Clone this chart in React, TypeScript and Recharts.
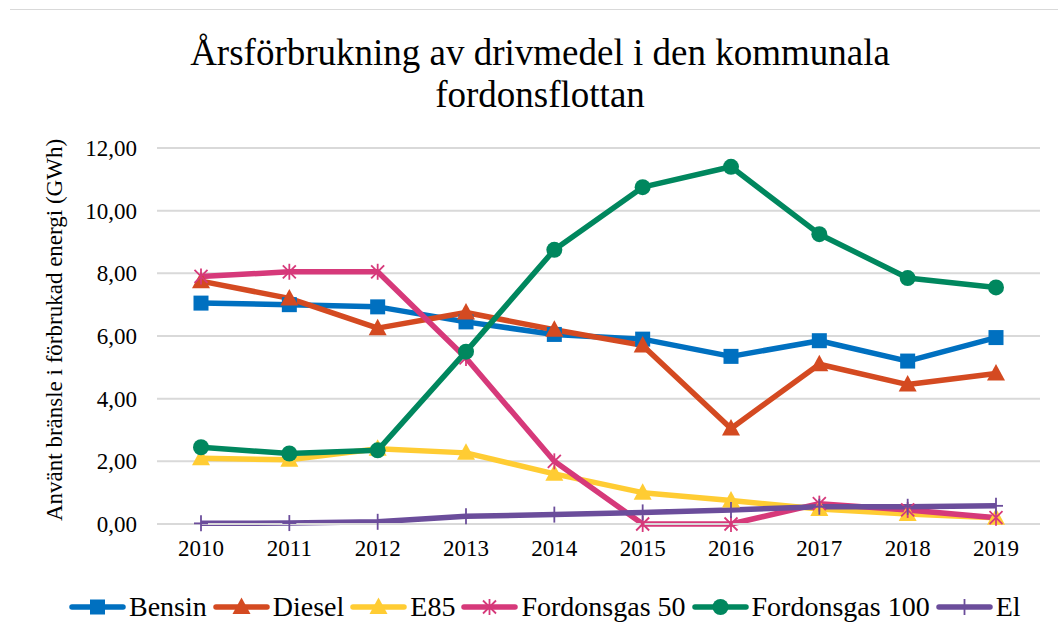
import React from "react";
import { LineChart, Line, XAxis, YAxis, CartesianGrid } from "recharts";

const years = ["2010", "2011", "2012", "2013", "2014", "2015", "2016", "2017", "2018", "2019"];
const bensin = [7.05, 7.0, 6.93, 6.45, 6.05, 5.9, 5.35, 5.85, 5.2, 5.95];
const diesel = [7.75, 7.2, 6.25, 6.75, 6.2, 5.7, 3.05, 5.1, 4.45, 4.8];
const e85 = [2.1, 2.05, 2.4, 2.27, 1.6, 1.0, 0.75, 0.48, 0.32, 0.2];
const fordonsgas50 = [7.9, 8.05, 8.05, 5.3, 2.0, 0, 0, 0.65, 0.45, 0.2];
const fordonsgas100 = [2.45, 2.25, 2.35, 5.5, 8.75, 10.75, 11.4, 9.25, 7.85, 7.55];
const el = [0.02, 0.03, 0.07, 0.25, 0.3, 0.37, 0.45, 0.55, 0.55, 0.58];
const yTicks = [0, 2, 4, 6, 8, 10, 12];

const FONT = '"Liberation Serif", "Times New Roman", serif';

type Shape = "square" | "triangle" | "star" | "circle" | "plus";

const series: { key: string; name: string; color: string; shape: Shape; values: number[] }[] = [
  { key: "bensin", name: "Bensin", color: "#0070C0", shape: "square", values: bensin },
  { key: "diesel", name: "Diesel", color: "#D44A21", shape: "triangle", values: diesel },
  { key: "e85", name: "E85", color: "#FFCC33", shape: "triangle", values: e85 },
  { key: "fg50", name: "Fordonsgas 50", color: "#D6397A", shape: "star", values: fordonsgas50 },
  { key: "fg100", name: "Fordonsgas 100", color: "#00875E", shape: "circle", values: fordonsgas100 },
  { key: "el", name: "El", color: "#6B4D9B", shape: "plus", values: el },
];

const data = years.map((year, i) => {
  const row: Record<string, string | number> = { year };
  series.forEach((s) => (row[s.key] = s.values[i]));
  return row;
});

function Marker({ cx, cy, shape, color }: { cx: number; cy: number; shape: Shape; color: string }) {
  switch (shape) {
    case "square":
      return <rect x={cx - 7.5} y={cy - 7.5} width={15} height={15} fill={color} />;
    case "triangle":
      return <path d={`M${cx},${cy - 9.5} L${cx + 9},${cy + 7} L${cx - 9},${cy + 7} Z`} fill={color} />;
    case "circle":
      return <circle cx={cx} cy={cy} r={8} fill={color} />;
    case "star":
      return (
        <g stroke={color} strokeWidth={1.8}>
          <line x1={cx - 6.5} y1={cy - 6.5} x2={cx + 6.5} y2={cy + 6.5} />
          <line x1={cx - 6.5} y1={cy + 6.5} x2={cx + 6.5} y2={cy - 6.5} />
          <line x1={cx} y1={cy - 8} x2={cx} y2={cy + 8} />
        </g>
      );
    case "plus":
      return (
        <g stroke={color} strokeWidth={1.8}>
          <line x1={cx} y1={cy - 8} x2={cx} y2={cy + 8} />
          <line x1={cx - 7} y1={cy} x2={cx + 7} y2={cy} />
        </g>
      );
  }
}

const makeDot = (shape: Shape, color: string) => (props: any) => {
  const { cx, cy, index } = props;
  if (cx == null || cy == null) return <g key={index} />;
  return (
    <g key={`${shape}-${index}`}>
      <Marker cx={cx} cy={cy} shape={shape} color={color} />
    </g>
  );
};

const fmt = (v: number) => v.toFixed(2).replace(".", ",");

function XTick(props: any) {
  const { x, y, payload } = props;
  return (
    <text x={x} y={y} dy="0.71em" textAnchor="middle" fill="#000" style={{ fontFamily: FONT, fontSize: 23 }}>
      {payload.value}
    </text>
  );
}

function YTick(props: any) {
  const { x, y, payload } = props;
  return (
    <text x={x} y={y} dy="0.355em" textAnchor="end" fill="#000" style={{ fontFamily: FONT, fontSize: 23 }}>
      {fmt(payload.value)}
    </text>
  );
}

export default function App() {
  return (
    <div style={{ position: "absolute", left: 0, top: 0, width: 1058, height: 637, background: "#fff", fontFamily: FONT }}>
      <div style={{ position: "absolute", left: 10, right: 0, top: 9, borderTop: "1px solid #d9d9d9" }} />
      <div
        style={{
          position: "absolute",
          left: 0,
          width: 1080,
          top: 32,
          textAlign: "center",
          fontSize: 37,
          lineHeight: "42px",
          color: "#000",
        }}
      >
        Årsförbrukning av drivmedel i den kommunala
        <br />
        fordonsflottan
      </div>
      <div
        style={{
          position: "absolute",
          left: 55,
          top: 330,
          transform: "translate(-50%, -50%) rotate(-90deg)",
          whiteSpace: "nowrap",
          fontSize: 23,
          color: "#000",
        }}
      >
        Använt bränsle i förbrukad energi (GWh)
      </div>
      <LineChart
        width={1058}
        height={637}
        data={data}
        margin={{ top: 148, right: 18, bottom: 73, left: 0 }}
        style={{ position: "absolute", left: 0, top: 0 }}
      >
        <CartesianGrid vertical={false} stroke="#d9d9d9" strokeWidth={2} />
        <XAxis
          dataKey="year"
          height={40}
          padding={{ left: 44, right: 44 }}
          tickLine={false}
          axisLine={{ stroke: "#d9d9d9", strokeWidth: 2 }}
          tickMargin={10}
          tick={<XTick />}
        />
        <YAxis
          width={157}
          domain={[0, 12]}
          ticks={yTicks}
          tickLine={false}
          axisLine={false}
          tickMargin={14}
          tick={<YTick />}
        />
        {series.map((s) => (
          <Line
            key={s.key}
            type="linear"
            dataKey={s.key}
            name={s.name}
            stroke={s.color}
            strokeWidth={5.5}
            strokeLinejoin="round"
            dot={makeDot(s.shape, s.color)}
            activeDot={false}
            isAnimationActive={false}
          />
        ))}
      </LineChart>
      <div
        style={{
          position: "absolute",
          left: 69,
          top: 587,
          display: "flex",
          alignItems: "center",
          fontSize: 28,
          fontFamily: FONT,
          color: "#000",
        }}
      >
        {series.map((s) => (
          <div key={s.key} style={{ display: "flex", alignItems: "center", marginRight: 6 }}>
            <svg width={57} height={40} style={{ marginRight: 3 }}>
              <line x1={3} y1={20} x2={54} y2={20} stroke={s.color} strokeWidth={5.5} strokeLinecap="round" />
              <Marker cx={28.5} cy={20} shape={s.shape} color={s.color} />
            </svg>
            <span>{s.name}</span>
          </div>
        ))}
      </div>
    </div>
  );
}
